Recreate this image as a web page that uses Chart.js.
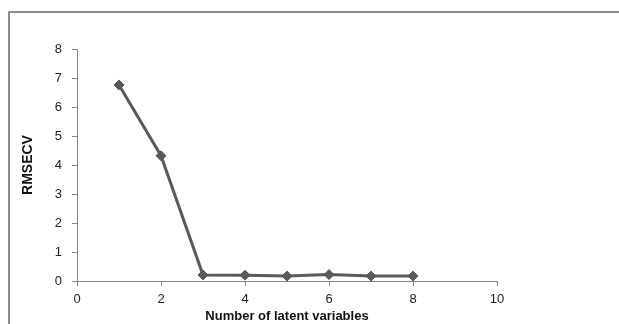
<!DOCTYPE html>
<html>
<head>
<meta charset="utf-8">
<script src="https://cdn.jsdelivr.net/npm/chart.js@4"></script>
<style>
  html, body { margin: 0; padding: 0; background: #fff; }
  #wrap { position: relative; width: 619px; height: 324px; }
  #frame {
    position: absolute; left: 8px; top: 11px; right: -2px; bottom: -2px;
    border-left: 2px solid #8c8c8c; border-top: 2px solid #8c8c8c;
  }
  canvas { position: absolute; left: 0; top: 0; }
</style>
</head>
<body>
<div id="wrap">
  <div id="frame"></div>
  <canvas id="rmsecvChart" width="619" height="324"></canvas>
</div>
<script>
const latentVars = [1, 2, 3, 4, 5, 6, 7, 8];
const rmsecv = [6.76, 4.32, 0.21, 0.2, 0.17, 0.22, 0.17, 0.17];
const xTicks = [0, 2, 4, 6, 8, 10];
const yTicks = [0, 1, 2, 3, 4, 5, 6, 7, 8];

const axisGray = "#868686";
const lineGray = "#595959";
const font = "'Liberation Sans', Arial, sans-serif";

const chartEl = document.getElementById("rmsecvChart");

new Chart(chartEl, {
  type: "line",
  data: {
    datasets: [
      {
        label: "RMSECV",
        data: latentVars.map((x, i) => ({ x, y: rmsecv[i] })),
        borderColor: lineGray,
        backgroundColor: lineGray,
        borderWidth: 3,
        pointStyle: "rectRot",
        pointRadius: 5,
        pointBorderWidth: 1,
        tension: 0,
      },
    ],
  },
  options: {
    responsive: false,
    animation: false,
    layout: { padding: { left: 0, right: 122, top: 49, bottom: 0 } },
    plugins: { legend: { display: false }, tooltip: { enabled: false } },
    scales: {
      x: {
        type: "linear",
        min: 0,
        max: 10,
        afterBuildTicks: (scale) => { scale.ticks = xTicks.map((v) => ({ value: v })); },
        afterFit: (scale) => { scale.height = 43; },
        border: { color: axisGray, width: 1 },
        grid: { drawOnChartArea: false, color: axisGray, tickLength: 5 },
        ticks: { color: "#222", font: { family: font, size: 13 }, padding: 6 },
        title: {
          display: true,
          text: "Number of latent variables",
          color: "#111",
          font: { family: font, size: 13, weight: "bold" },
          padding: { top: -6, bottom: 0 },
        },
      },
      y: {
        min: 0,
        max: 8,
        afterBuildTicks: (scale) => { scale.ticks = yTicks.map((v) => ({ value: v })); },
        afterFit: (scale) => { scale.width = 77; },
        border: { color: axisGray, width: 1 },
        grid: { drawOnChartArea: false, color: axisGray, tickLength: 5 },
        ticks: { color: "#222", font: { family: font, size: 13 }, padding: 10 },
        title: {
          display: true,
          text: "RMSECV",
          color: "#111",
          font: { family: font, size: 14, weight: "bold" },
          padding: { top: 20, bottom: 0 },
        },
      },
    },
  },
});
</script>
</body>
</html>
